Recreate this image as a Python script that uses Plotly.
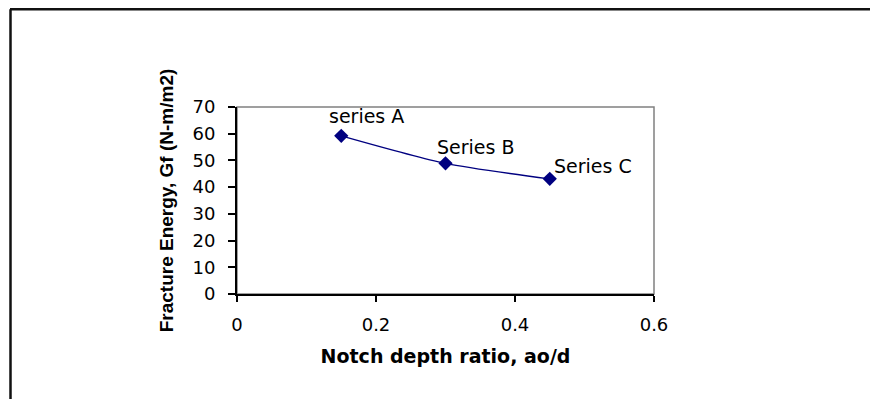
import plotly.graph_objects as go

# Data
notch_ratio = [0.15, 0.30, 0.45]
fracture_energy = [59.2, 48.9, 43.1]
point_labels = ["series A", "Series B", "Series C"]
x_ticks = [0, 0.2, 0.4, 0.6]
x_tick_text = ["0", "0.2", "0.4", "0.6"]
y_ticks = [0, 10, 20, 30, 40, 50, 60, 70]

# page body has an 8px margin, so figure coordinates = screen - 8
OFF = 8
W, H = 878, 399
ML, MT = 237 - OFF, 107 - OFF
PW, PH = 417, 187
MR, MB = W - ML - PW, H - MT - PH

def px_x(p):
    return (p - OFF - ML) / PW

def px_y(p):
    return (MT + PH - (p - OFF)) / PH

fig = go.Figure()
fig.add_trace(go.Scatter(
    x=notch_ratio, y=fracture_energy, mode="lines+markers",
    line=dict(color="#000080", width=1.4, shape="spline", smoothing=0.7),
    marker=dict(symbol="diamond", size=11, color="#000080"),
    showlegend=False, hoverinfo="skip",
))

shifts = [(-14, 20), (-11, 16), (2, 13)]
for xv, yv, lab, (dx, dy) in zip(notch_ratio, fracture_energy, point_labels, shifts):
    fig.add_annotation(x=xv, y=yv, text=lab, showarrow=False,
                       xanchor="left", yanchor="middle", xshift=dx, yshift=dy,
                       font=dict(family="DejaVu Sans", size=19, color="black"))

# plot-area border (gray) and outer chart border
fig.add_shape(type="rect", xref="paper", yref="paper", x0=0, x1=1, y0=0, y1=1,
              line=dict(color="#808080", width=1.5), layer="below")
top_y = OFF + 1.3
fig.add_shape(type="line", xref="paper", yref="paper",
              x0=px_x(10), x1=px_x(890), y0=px_y(top_y), y1=px_y(top_y),
              line=dict(color="#111111", width=2.5))
fig.add_shape(type="line", xref="paper", yref="paper",
              x0=px_x(10.5), x1=px_x(10.5), y0=px_y(top_y), y1=px_y(410),
              line=dict(color="#111111", width=2.5))

fig.update_xaxes(
    range=[0, 0.6], tickvals=x_ticks, ticktext=x_tick_text,
    showgrid=False, zeroline=False, showline=True, linecolor="black", linewidth=2,
    ticks="outside", ticklen=6, tickwidth=1.5, tickcolor="black",
    tickfont=dict(family="DejaVu Sans", size=18, color="black"),
    ticklabelstandoff=7,
    title=dict(text="<b>Notch depth ratio, ao/d</b>",
               font=dict(family="DejaVu Sans", size=19, color="black"), standoff=16),
    automargin=False,
)
fig.update_yaxes(
    range=[0, 70], tickvals=y_ticks,
    showgrid=False, zeroline=False, showline=True, linecolor="black", linewidth=2,
    ticks="outside", ticklen=7, tickwidth=1.5, tickcolor="black",
    tickfont=dict(family="DejaVu Sans", size=18, color="black"),
    ticklabelstandoff=9,
    title=dict(text="<b>Fracture Energy, Gf (N-m/m2)</b>",
               font=dict(family="Liberation Sans, Arial", size=19, color="black"), standoff=14),
    automargin=False,
)
fig.update_layout(
    width=W, height=H, margin=dict(l=ML, r=MR, t=MT, b=MB),
    plot_bgcolor="white", paper_bgcolor="white",
)
fig.write_html("out.html")
